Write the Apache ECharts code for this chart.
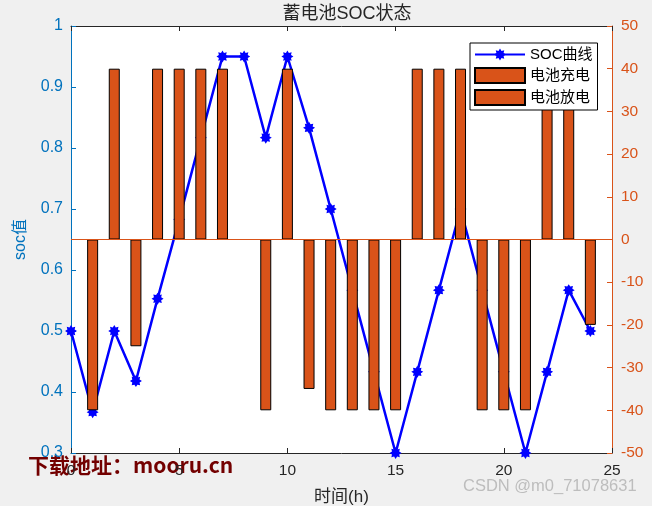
<!DOCTYPE html>
<html><head><meta charset="utf-8">
<script src="https://cdn.jsdelivr.net/npm/echarts@6/dist/echarts.min.js"></script>
<style>html,body{margin:0;padding:0;background:#f0f0f0}#c{width:652px;height:506px}</style>
</head><body><div id="c"></div>
<script>
const hoursSOC = [0,1,2,3,4,5,6,7,8,9,10,11,12,13,14,15,16,17,18,19,20,21,22,23,24];
const socValues = [0.5,0.367,0.5,0.418,0.553,0.683,0.817,0.95,0.95,0.817,0.95,0.833,0.7,0.567,0.433,0.3,0.433,0.567,0.7,0.567,0.433,0.3,0.433,0.567,0.5];
const hoursBar = [1,2,3,4,5,6,7,8,9,10,11,12,13,14,15,16,17,18,19,20,21,22,23,24];
const chargeValues = [null,40,null,40,40,40,40,0,null,40,null,null,null,null,null,40,40,40,null,null,null,40,40,null];
const dischargeValues = [-40,null,-25,null,null,null,null,null,-40,null,-35,-40,-40,-40,-40,null,null,null,-40,-40,-40,null,null,-20];
const xTicks = [0,5,10,15,20,25];

function starPath(){
  let p='path://';
  const n=8;
  for(let i=0;i<2*n;i++){
    const r = i%2===0 ? 10 : 6.5;
    const a = Math.PI*i/n - Math.PI/2;
    p += (i===0?'M':'L') + (10+r*Math.cos(a)).toFixed(2)+','+(10+r*Math.sin(a)).toFixed(2);
  }
  return p+'Z';
}
const STAR = starPath();
const FONT = '"Liberation Sans","Noto Sans CJK SC",sans-serif';
const ORANGE = '#D95319', BLUE='#0072BD', DARK='#262626';

const chart = echarts.init(document.getElementById('c'));
chart.setOption({
  backgroundColor:'#f0f0f0',
  animation:false,
  title:{text:'蓄电池SOC状态', left:342, top:0, textAlign:'center',
    textStyle:{fontFamily:FONT,fontSize:18,fontWeight:'normal',color:DARK}},
  legend:{
    left:470, top:43, orient:'vertical', itemGap:5, padding:[4,5,4,4],
    backgroundColor:'#fff', borderColor:'#000', borderWidth:1, borderRadius:0,
    itemWidth:50, itemHeight:15,
    textStyle:{fontFamily:FONT,fontSize:15,color:'#000'},
    data:[{name:'SOC曲线'},{name:'电池充电',icon:'rect'},{name:'电池放电',icon:'rect'}]
  },
  grid:{left:71,right:40,top:26,bottom:53,show:true,backgroundColor:'#fff',borderWidth:0,
    containLabel:false, outerBoundsMode:'none'},
  xAxis:[{
    type:'value', min:0, max:25, interval:5, position:'bottom',
    name:'时间(h)', nameLocation:'middle', nameGap:36,
    nameTextStyle:{fontFamily:FONT,fontSize:17,color:DARK},
    axisLine:{show:true,onZero:false,lineStyle:{color:DARK,width:1}},
    axisTick:{show:true,inside:true,length:5,lineStyle:{color:DARK}},
    axisLabel:{fontFamily:FONT,fontSize:15.5,color:DARK,margin:10},
    splitLine:{show:false}
  },{
    type:'value', min:0, max:25, interval:5, position:'top',
    axisLine:{show:true,onZero:false,lineStyle:{color:DARK,width:1}},
    axisTick:{show:true,inside:true,length:5,lineStyle:{color:DARK}},
    axisLabel:{show:false}, splitLine:{show:false}
  }],
  yAxis:[{
    type:'value', min:0.3, max:1, interval:0.1, position:'left',
    name:'soc值', nameLocation:'middle', nameGap:42, nameRotate:90,
    nameTextStyle:{fontFamily:FONT,fontSize:16,color:BLUE},
    axisLine:{show:true,onZero:false,lineStyle:{color:BLUE,width:1}},
    axisTick:{show:true,inside:true,length:5,lineStyle:{color:BLUE}},
    axisLabel:{fontFamily:FONT,fontSize:16,color:BLUE,margin:8,
      formatter:v=>(Math.round(v*10)/10).toString()},
    splitLine:{show:false}
  },{
    type:'value', min:-50, max:50, interval:10, position:'right',
    axisLine:{show:true,onZero:false,lineStyle:{color:ORANGE,width:1}},
    axisTick:{show:true,inside:true,length:5,lineStyle:{color:ORANGE}},
    axisLabel:{fontFamily:FONT,fontSize:15.5,color:ORANGE,margin:9},
    splitLine:{show:false}
  }],
  series:[{
    name:'SOC曲线', type:'line', xAxisIndex:0, yAxisIndex:0, z:2,
    data:hoursSOC.map((h,i)=>[h,socValues[i]]),
    lineStyle:{color:'#0000FF',width:2.5},
    itemStyle:{color:'#0000FF'},
    symbol:STAR, symbolSize:12, showSymbol:true
  },{
    name:'电池充电', type:'bar', xAxisIndex:0, yAxisIndex:1, z:3,
    barWidth:11, barGap:'-100%',
    data:hoursBar.map((h,i)=>[h,chargeValues[i]]),
    itemStyle:{color:ORANGE,borderColor:'#000',borderWidth:1},
    markLine:{silent:true,symbol:['none','none'],label:{show:false},
      lineStyle:{color:ORANGE,width:1,type:'solid'},data:[{yAxis:0}]}
  },{
    name:'电池放电', type:'bar', xAxisIndex:0, yAxisIndex:1, z:3,
    barWidth:11, barGap:'-100%',
    data:hoursBar.map((h,i)=>[h,dischargeValues[i]]),
    itemStyle:{color:ORANGE,borderColor:'#000',borderWidth:1}
  }],
  graphic:[{
    type:'text', left:28, top:455,
    style:{text:'下载地址：mooru.cn', fill:'#730000', font:'bold 21px "Noto Sans CJK SC",sans-serif'}
  },{
    type:'text', left:463, top:478,
    style:{text:'CSDN @m0_71078631', fill:'#bdbdbd', font:'16.5px "Liberation Sans",sans-serif'}
  }]
});
</script></body></html>
